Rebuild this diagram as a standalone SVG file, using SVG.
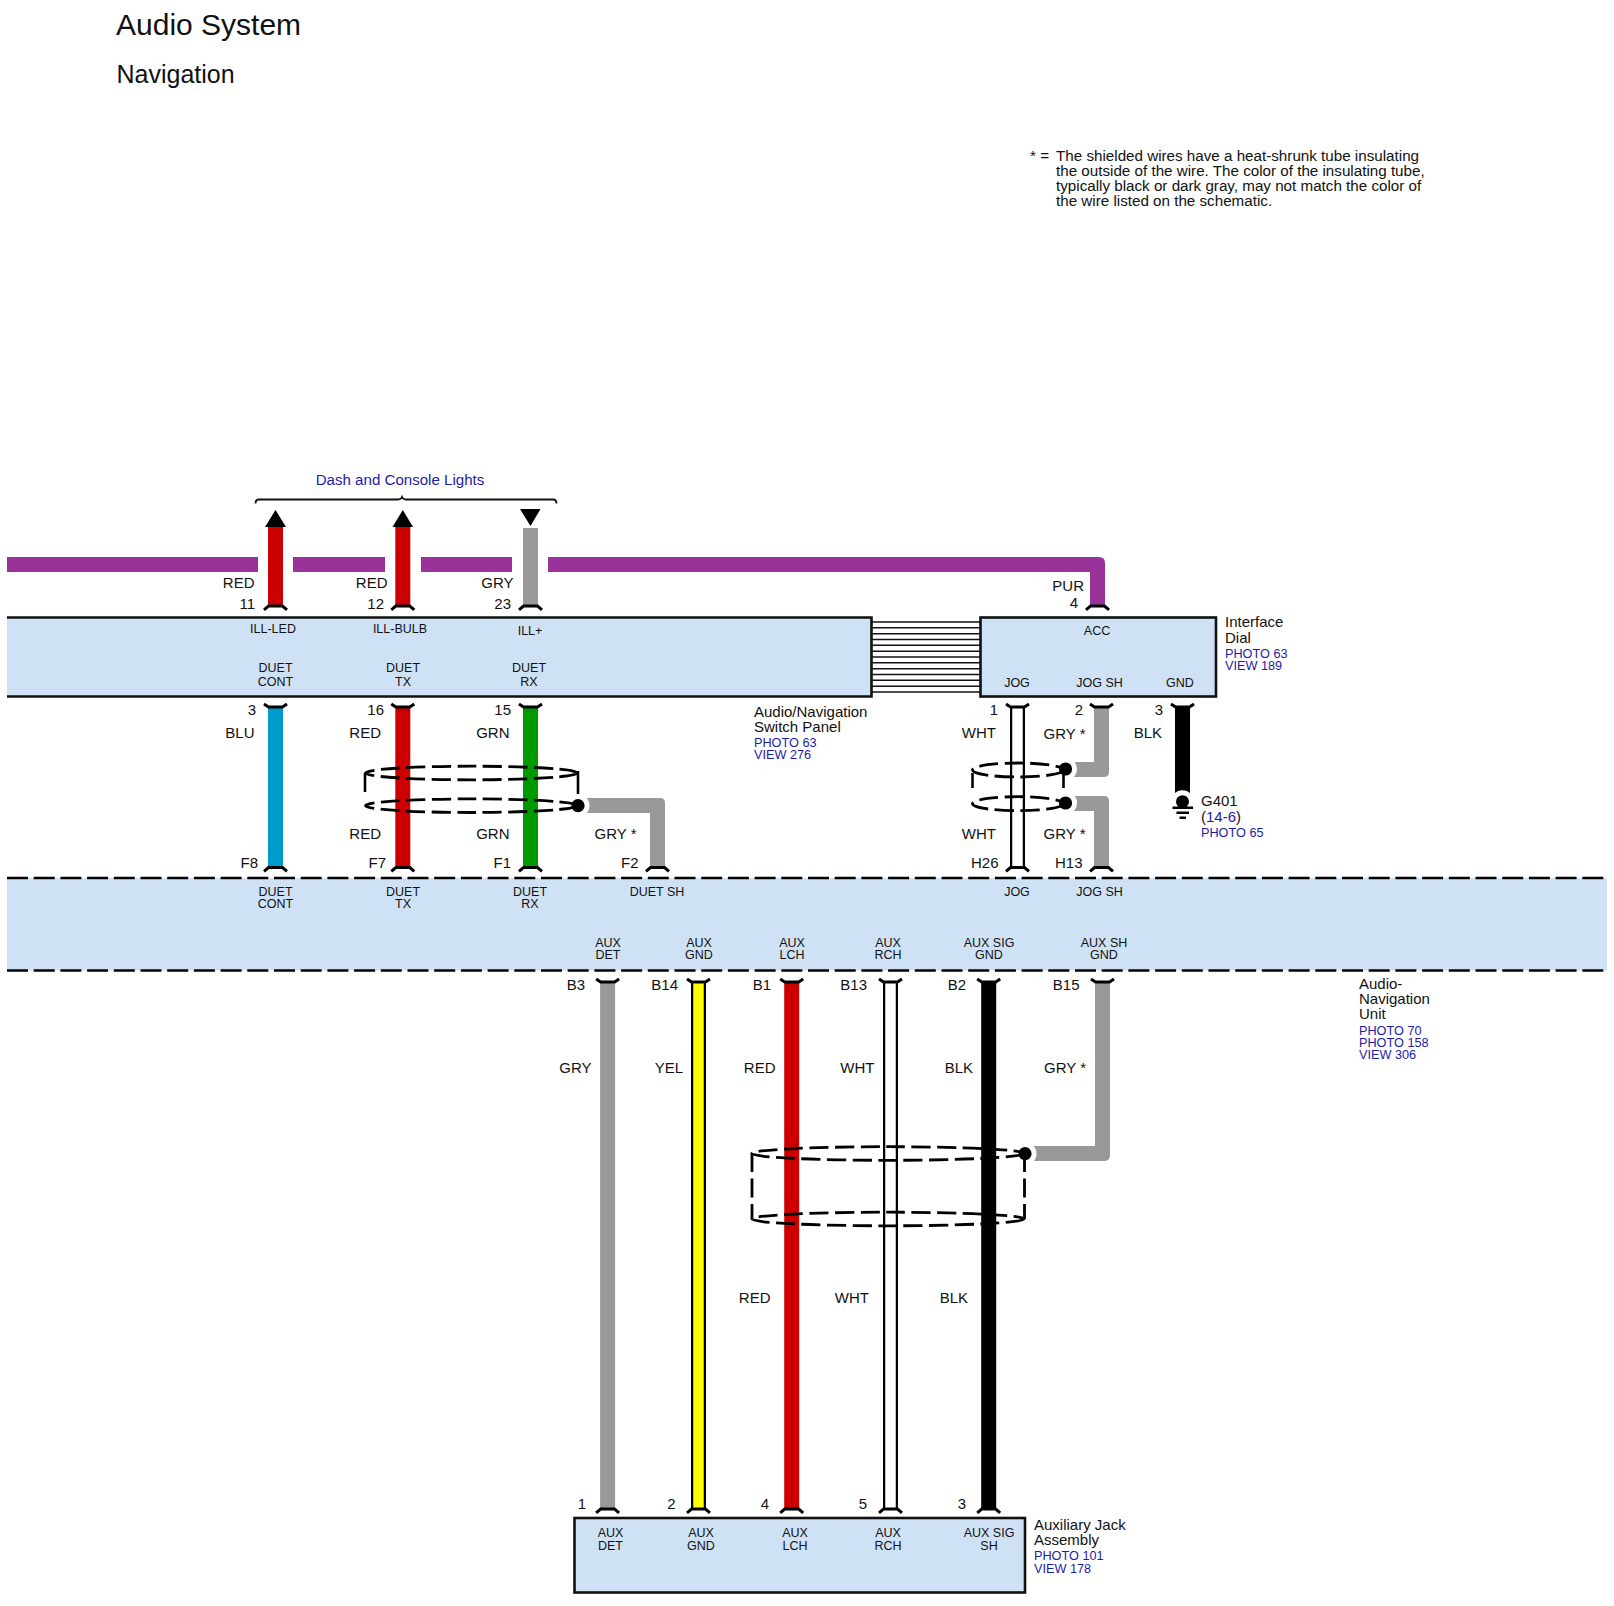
<svg xmlns="http://www.w3.org/2000/svg" width="1614" height="1606" viewBox="0 0 1614 1606">
<style>
text{font-family:"Liberation Sans",Arial,sans-serif;fill:#111}
.t1{font-size:30px}.t2{font-size:25px}
.n{font-size:15px}
.note{font-size:15.200px}
.w{font-size:15px;text-anchor:end}
.c{font-size:12.500px;text-anchor:middle}
.b{font-size:12.700px;fill:#1e1ca6}
.bl{fill:#1e1ca6}
.box{fill:#cfe2f5}
.edge{fill:none;stroke:#111;stroke-width:2.600}
.dash{fill:none;stroke:#000;stroke-width:2.600;stroke-dasharray:21 5.700}
.wire{fill:none;stroke-width:15}
.thin{fill:none;stroke:#111;stroke-width:1.600}
.cap{fill:none;stroke:#000;stroke-width:3}
.shield{fill:none;stroke:#000;stroke-width:2.800;stroke-dasharray:19 6.500}
.side{fill:none;stroke:#000;stroke-width:2.600}
.red{stroke:#cc0000}.blu{stroke:#0099cc}.grn{stroke:#009900}.gry{stroke:#999}.blk{stroke:#000}.yel{stroke:#ffff00}
</style>
<defs>
<path id="capD" class="cap" d="M-11.500 2.800L-7 -1H7L11.500 2.800"/>
<path id="capU" class="cap" d="M-11.500 -2L-7 1H7L11.500 -2"/>
</defs>

<g id="title">
<text class="t1" x="116" y="35">Audio System</text>
<text class="t2" x="116.500" y="83">Navigation</text>
</g>
<g id="note">
<text class="note" x="1030" y="160.700">* =</text>
<text class="note" x="1056" y="160.700">The shielded wires have a heat-shrunk tube insulating</text>
<text class="note" x="1056" y="176">the outside of the wire. The color of the insulating tube,</text>
<text class="note" x="1056" y="191">typically black or dark gray, may not match the color of</text>
<text class="note" x="1056" y="206">the wire listed on the schematic.</text>
</g>

<g id="audio-navigation-switch-panel">
<rect class="box" x="7" y="617.500" width="864.500" height="79"/>
<path class="edge" d="M7 617.500H871.500V696.500H7"/>
<text class="c" x="273" y="633">ILL-LED</text>
<text class="c" x="400" y="633">ILL-BULB</text>
<text class="c" x="530" y="635">ILL+</text>
<text class="c" x="275.500" y="672">DUET</text><text class="c" x="275.500" y="685.500">CONT</text>
<text class="c" x="403" y="672">DUET</text><text class="c" x="403" y="685.500">TX</text>
<text class="c" x="529" y="672">DUET</text><text class="c" x="529" y="685.500">RX</text>
<text class="n" x="754" y="717">Audio/Navigation</text>
<text class="n" x="754" y="732">Switch Panel</text>
<text class="b" x="754" y="747">PHOTO 63</text>
<text class="b" x="754" y="759">VIEW 276</text>
</g>

<g id="interface-dial">
<rect class="box edge" style="fill:#cfe2f5" x="980.500" y="617.500" width="235.500" height="79"/>
<text class="c" x="1097" y="635">ACC</text>
<text class="c" x="1017" y="687">JOG</text>
<text class="c" x="1099.500" y="687">JOG SH</text>
<text class="c" x="1180" y="687">GND</text>
<text class="n" x="1225" y="627">Interface</text>
<text class="n" x="1225" y="643">Dial</text>
<text class="b" x="1225" y="658">PHOTO 63</text>
<text class="b" x="1225" y="670">VIEW 189</text>
</g>

<g id="audio-navigation-unit">
<rect class="box" x="7" y="878" width="1600" height="92.500"/>
<path class="dash" d="M7 878H1607"/>
<path class="dash" d="M7 970.500H1607"/>
<text class="c" x="275.500" y="896">DUET</text><text class="c" x="275.500" y="907.500">CONT</text>
<text class="c" x="403" y="896">DUET</text><text class="c" x="403" y="907.500">TX</text>
<text class="c" x="530" y="896">DUET</text><text class="c" x="530" y="907.500">RX</text>
<text class="c" x="657" y="896">DUET SH</text>
<text class="c" x="1017" y="895.500">JOG</text>
<text class="c" x="1099.500" y="895.500">JOG SH</text>
<text class="c" x="608" y="947">AUX</text><text class="c" x="608" y="959">DET</text>
<text class="c" x="699" y="947">AUX</text><text class="c" x="699" y="959">GND</text>
<text class="c" x="792" y="947">AUX</text><text class="c" x="792" y="959">LCH</text>
<text class="c" x="888" y="947">AUX</text><text class="c" x="888" y="959">RCH</text>
<text class="c" x="989" y="947">AUX SIG</text><text class="c" x="989" y="959">GND</text>
<text class="c" x="1104" y="947">AUX SH</text><text class="c" x="1104" y="959">GND</text>
<text class="n" x="1359" y="989">Audio-</text>
<text class="n" x="1359" y="1004">Navigation</text>
<text class="n" x="1359" y="1019">Unit</text>
<text class="b" x="1359" y="1034.500">PHOTO 70</text>
<text class="b" x="1359" y="1047">PHOTO 158</text>
<text class="b" x="1359" y="1059">VIEW 306</text>
</g>

<g id="auxiliary-jack-assembly">
<rect class="box edge" style="fill:#cfe2f5" x="574.500" y="1518" width="450.500" height="74.500"/>
<text class="c" x="610.500" y="1537">AUX</text><text class="c" x="610.500" y="1550">DET</text>
<text class="c" x="701" y="1537">AUX</text><text class="c" x="701" y="1550">GND</text>
<text class="c" x="795" y="1537">AUX</text><text class="c" x="795" y="1550">LCH</text>
<text class="c" x="888" y="1537">AUX</text><text class="c" x="888" y="1550">RCH</text>
<text class="c" x="989" y="1537">AUX SIG</text><text class="c" x="989" y="1550">SH</text>
<text class="n" x="1034" y="1530">Auxiliary Jack</text>
<text class="n" x="1034" y="1545">Assembly</text>
<text class="b" x="1034" y="1560">PHOTO 101</text>
<text class="b" x="1034" y="1572.500">VIEW 178</text>
</g>

<g id="dash-and-console-lights">
<text x="400" y="485" style="font-size:15.100px;text-anchor:middle;fill:#1e1ca6">Dash and Console Lights</text>
<path class="thin" style="stroke-width:1.800" d="M255.500 503.500Q255.500 499.500 259 499.500H398Q401 499.500 402 497Q403 499.500 406 499.500H553Q556.500 499.500 556.500 503.500"/>
<path fill="#000" d="M275.500 510L286 527H265Z"/>
<path fill="#000" d="M402.800 510L413 527H392.500Z"/>
<path fill="#000" d="M520 509H540.500L530.500 526Z"/>
</g>

<g id="connectors">
<!-- panel bus -->
<path class="thin" d="M871 622H980M871 627.800H980M871 633.700H980M871 639.500H980M871 645.300H980M871 651.200H980M871 657H980M871 662.800H980M871 668.700H980M871 674.500H980M871 680.300H980M871 686.200H980M871 692H980"/>
<!-- upper wires -->
<g fill="#993399">
<path d="M7 557H258V572H7ZM293 557H385V572H293ZM421 557H512V572H421Z"/>
<path d="M548 557H1099Q1105 557 1105 563V606H1090V572H548Z"/>
</g>
<path class="wire red" d="M275.500 527V606"/>
<path class="wire red" d="M402.800 527V606"/>
<path class="wire gry" d="M530.500 528V606"/>
<use href="#capD" x="275.500" y="607"/><use href="#capD" x="402.800" y="607"/><use href="#capD" x="530.500" y="607"/><use href="#capD" x="1097.500" y="607"/>
<!-- panel to unit -->
<path class="wire blu" d="M275.500 707V868"/>
<path class="wire red" d="M402.800 707V868"/>
<path class="wire grn" d="M530.500 707V868"/>
<path d="M580 798H660Q665 798 665 803V868H650V813H580Z" fill="#999"/>
<use href="#capU" x="275.500" y="706"/><use href="#capU" x="402.800" y="706"/><use href="#capU" x="530.500" y="706"/>
<use href="#capD" x="275.500" y="868.500"/><use href="#capD" x="402.800" y="868.500"/><use href="#capD" x="530.500" y="868.500"/><use href="#capD" x="657.500" y="868.500"/>
<path class="wire blk" d="M1017.500 707V868"/><path class="wire" style="stroke:#fff;stroke-width:10.500" d="M1017.500 707V868"/>
<path d="M1094 707H1109V772Q1109 777 1104 777H1067V762H1094Z" fill="#999"/>
<path d="M1067 796H1104Q1109 796 1109 801V868H1094V811H1067Z" fill="#999"/>
<path class="wire blk" d="M1182.500 707V800"/>
<use href="#capU" x="1017.500" y="706"/><use href="#capU" x="1101.500" y="706"/><use href="#capU" x="1182.500" y="706"/>
<use href="#capD" x="1017.500" y="868.500"/><use href="#capD" x="1101.500" y="868.500"/>
<!-- unit to jack -->
<path class="wire gry" d="M607.600 982V1509"/>
<path class="wire" style="stroke:#000" d="M698.500 982V1509"/><path class="wire yel" style="stroke-width:10.500" d="M698.500 982V1509"/>
<path class="wire red" d="M791.700 982V1509"/>
<path class="wire blk" d="M890.500 982V1509"/><path class="wire" style="stroke:#fff;stroke-width:10.500" d="M890.500 982V1509"/>
<path class="wire blk" d="M988.700 982V1509"/>
<path d="M1095 982H1110V1155Q1110 1161 1104 1161H1027V1146H1095Z" fill="#999"/>
<use href="#capU" x="607.600" y="981"/><use href="#capU" x="698.500" y="981"/><use href="#capU" x="791.700" y="981"/><use href="#capU" x="890.500" y="981"/><use href="#capU" x="988.700" y="981"/><use href="#capU" x="1102.500" y="981"/>
<use href="#capD" x="607.600" y="1510"/><use href="#capD" x="698.500" y="1510"/><use href="#capD" x="791.700" y="1510"/><use href="#capD" x="890.500" y="1510"/><use href="#capD" x="988.700" y="1510"/>
<!-- clearance around splice dots -->
<g fill="#fff">
<circle cx="578" cy="805.700" r="11.500"/>
<circle cx="1065.500" cy="769" r="11.500"/>
<circle cx="1065.500" cy="803" r="11.500"/>
<circle cx="1025" cy="1153.700" r="11.500"/>
<circle cx="1182.500" cy="801.700" r="11.500"/>
</g>
<!-- shields -->
<ellipse class="shield" cx="471.500" cy="773" rx="106" ry="6.800"/>
<ellipse class="shield" cx="471.500" cy="805.700" rx="106" ry="6.800"/>
<path class="side" d="M365 773V792M578 771V794"/>
<circle cx="578" cy="805.700" r="6.600" fill="#000"/>
<ellipse class="shield" cx="1018" cy="770" rx="45.500" ry="7"/>
<ellipse class="shield" cx="1018" cy="803.700" rx="45.500" ry="7"/>
<path class="side" d="M972.500 773V788M1063.500 770V788"/>
<circle cx="1065.500" cy="769" r="6.600" fill="#000"/>
<circle cx="1065.500" cy="803" r="6.600" fill="#000"/>
<ellipse class="shield" cx="888" cy="1153.500" rx="136" ry="6.800"/>
<ellipse class="shield" cx="888" cy="1219" rx="136" ry="6.800"/>
<path class="shield" d="M752 1153V1219M1024.500 1153V1219"/>
<circle cx="1025" cy="1153.700" r="6.600" fill="#000"/>
</g>

<g id="g401">
<circle cx="1182.500" cy="801.700" r="6.500" fill="#000"/>
<path class="side" d="M1172.500 807.800H1193M1176.500 812.800H1189M1179.500 817.800H1186"/>
<text class="n" x="1201" y="806">G401</text>
<text class="n" x="1201" y="821.500">(<tspan class="bl">14-6</tspan>)</text>
<text class="b" x="1201" y="836.500">PHOTO 65</text>
</g>

<g id="wire-labels">
<text class="w" x="254.500" y="588">RED</text><text class="w" x="387.500" y="588">RED</text><text class="w" x="513.500" y="588">GRY</text><text class="w" x="1084" y="590.500">PUR</text>
<text class="w" x="255" y="608.500">11</text><text class="w" x="384" y="608.500">12</text><text class="w" x="511" y="608.500">23</text><text class="w" x="1078" y="608">4</text>
<text class="w" x="256" y="715">3</text><text class="w" x="384" y="715">16</text><text class="w" x="511" y="715">15</text>
<text class="w" x="998" y="715">1</text><text class="w" x="1083" y="715">2</text><text class="w" x="1163" y="715">3</text>
<text class="w" x="254.500" y="738">BLU</text><text class="w" x="381" y="738">RED</text><text class="w" x="509.500" y="738">GRN</text>
<text class="w" x="996" y="738">WHT</text><text class="n" x="1043.500" y="739">GRY *</text><text class="w" x="1162" y="738">BLK</text>
<text class="w" x="381" y="839">RED</text><text class="w" x="509.500" y="839">GRN</text><text class="n" x="594.500" y="839">GRY *</text>
<text class="w" x="996" y="839">WHT</text><text class="n" x="1043.500" y="839">GRY *</text>
<text class="w" x="258" y="868">F8</text><text class="w" x="386" y="868">F7</text><text class="w" x="511" y="868">F1</text><text class="w" x="638.500" y="868">F2</text>
<text class="w" x="998.500" y="868">H26</text><text class="w" x="1082.500" y="868">H13</text>
<text class="w" x="585" y="990">B3</text><text class="w" x="678" y="990">B14</text><text class="w" x="771" y="990">B1</text><text class="w" x="867" y="990">B13</text><text class="w" x="966" y="990">B2</text><text class="w" x="1079.500" y="990">B15</text>
<text class="w" x="591.500" y="1072.500">GRY</text><text class="w" x="683" y="1072.500">YEL</text><text class="w" x="775.500" y="1072.500">RED</text><text class="w" x="874.500" y="1072.500">WHT</text><text class="w" x="973" y="1072.500">BLK</text><text class="n" x="1044" y="1072.500">GRY *</text>
<text class="w" x="770.500" y="1303">RED</text><text class="w" x="869" y="1303">WHT</text><text class="w" x="968" y="1303">BLK</text>
<text class="w" x="586" y="1509">1</text><text class="w" x="675.500" y="1509">2</text><text class="w" x="769" y="1509">4</text><text class="w" x="867" y="1509">5</text><text class="w" x="966" y="1509">3</text>
</g>
</svg>
